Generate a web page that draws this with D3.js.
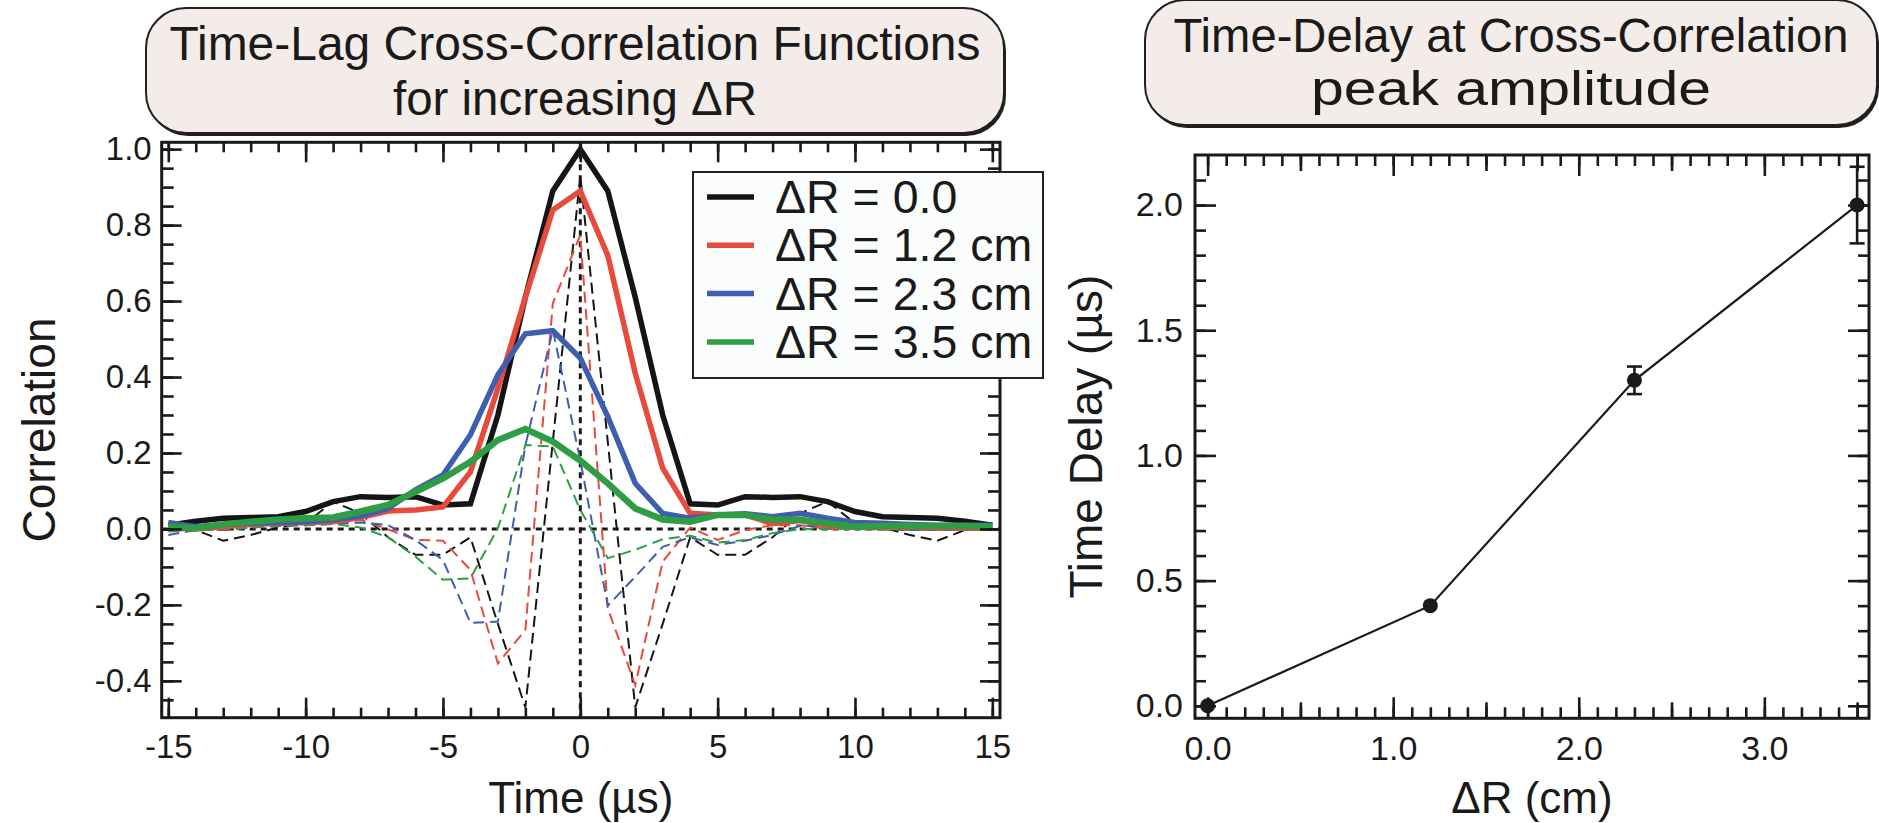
<!DOCTYPE html>
<html>
<head>
<meta charset="utf-8">
<script src="https://cdn.jsdelivr.net/npm/d3@7"></script>
<style>
body { margin: 0; background: #fff; }
svg text { font-family: "Liberation Sans", Arial, Helvetica, sans-serif; fill: #1a1a1a; }
</style>
</head>
<body>
<div id="chart"></div>
<script>
// time lags (us) of the cross-correlation functions
var lags = [-15,-14,-13,-12,-11,-10,-9,-8,-7,-6,-5,-4,-3,-2,-1,0,1,2,3,4,5,6,7,8,9,10,11,12,13,14,15];

// solid curves : correlation for each dR
var corr00 = [0.01,0.02,0.028,0.03,0.032,0.046,0.072,0.085,0.083,0.085,0.063,0.066,0.30,0.61,0.89,1.0,0.89,0.61,0.30,0.066,0.063,0.085,0.083,0.085,0.072,0.046,0.032,0.03,0.028,0.02,0.01];
var corr12 = [0.002,0.0,0.006,0.012,0.015,0.017,0.019,0.03,0.047,0.05,0.058,0.15,0.37,0.61,0.84,0.89,0.72,0.41,0.16,0.041,0.037,0.037,0.014,0.022,0.01,0.006,0.005,0.005,0.004,0.003,0.002];
var corr23 = [0.017,0.006,0.012,0.015,0.017,0.019,0.024,0.034,0.054,0.103,0.142,0.248,0.406,0.514,0.522,0.45,0.296,0.12,0.041,0.028,0.037,0.04,0.032,0.041,0.028,0.017,0.015,0.012,0.01,0.01,0.01];
var corr35 = [0.006,0.002,0.012,0.019,0.025,0.028,0.03,0.046,0.063,0.098,0.133,0.177,0.234,0.263,0.23,0.18,0.12,0.054,0.025,0.019,0.037,0.037,0.024,0.024,0.015,0.006,0.008,0.008,0.008,0.008,0.006];

// dashed curves
var dash00 = [0.0,-0.003,-0.031,-0.016,0.004,0.015,0.072,0.041,-0.022,-0.068,-0.068,-0.022,-0.25,-0.47,0.23,0.93,0.23,-0.47,-0.25,-0.022,-0.068,-0.068,-0.022,0.041,0.072,0.015,0.004,-0.016,-0.031,-0.003,0.0];
var dash12 = [-0.003,-0.003,-0.003,0.004,0.008,0.013,0.013,0.024,-0.001,-0.029,-0.031,-0.108,-0.354,-0.266,0.594,0.774,-0.209,-0.411,-0.086,0.004,-0.029,-0.003,0.01,0.01,0.0,0.0,-0.002,-0.003,-0.003,-0.003,-0.003];
var dash23 = [-0.016,-0.003,-0.003,0.004,0.008,0.01,0.013,0.017,0.01,-0.029,-0.082,-0.247,-0.244,0.22,0.524,0.18,-0.202,-0.126,-0.047,-0.022,-0.042,-0.031,-0.016,0.008,0.008,0.004,0.0,-0.003,-0.003,-0.003,-0.003];
var dash35 = [-0.007,-0.003,-0.001,0.004,0.008,0.01,0.013,0.004,-0.022,-0.073,-0.134,-0.13,0.002,0.221,0.217,0.05,-0.077,-0.055,-0.027,-0.018,-0.036,-0.029,-0.011,0.0,0.0,0.0,0.0,0.0,0.0,0.0,0.0];

var seriesNames = ["\u0394R = 0.0", "\u0394R = 1.2 cm", "\u0394R = 2.3 cm", "\u0394R = 3.5 cm"];
var seriesColors = ["#151515", "#e64b3c", "#3f5fae", "#2e9e44"];

// right panel : time delay at the peak
var deltaR = [0.0, 1.2, 2.3, 3.5];
var delay = [0.0, 0.4, 1.3, 2.0];
var delayErr = [0.0, 0.0, 0.055, 0.153];

var xTicksL = [-15, -10, -5, 0, 5, 10, 15];
var yTicksL = [-0.4, -0.2, 0.0, 0.2, 0.4, 0.6, 0.8, 1.0];
var xTicksR = [0.0, 1.0, 2.0, 3.0];
var yTicksR = [0.0, 0.5, 1.0, 1.5, 2.0];

var ink = "#1a1a1a";

var svg = d3.select("#chart").append("svg")
    .attr("width", 1879)
    .attr("height", 823);

// draws a set of inward ticks (labels optional)
function ticks(axisFn, scale, tr, values, size, fmt, pad, fs) {
	var ax = axisFn(scale).tickValues(values).tickSize(-size).tickPadding(pad || 0)
	    .tickFormat(fmt || "");
	var g = svg.append("g").attr("transform", tr).call(ax);
	g.select(".domain").remove();
	g.selectAll("line").attr("stroke", ink).attr("stroke-width", 2.6);
	g.selectAll("text").attr("font-size", fs || 32).attr("fill", ink);
	return g;
}

function titleBox(x0, y0, x1, y1, lines) {
	svg.append("rect")
	    .attr("x", x0 + 2).attr("y", y0 + 3)
	    .attr("width", x1 - x0).attr("height", y1 - y0)
	    .attr("rx", 40).attr("fill", "#231f20");
	svg.append("rect")
	    .attr("x", x0).attr("y", y0)
	    .attr("width", x1 - x0).attr("height", y1 - y0)
	    .attr("rx", 40).attr("fill", "#f4ece8")
	    .attr("stroke", "#231f20").attr("stroke-width", 2);
	lines.forEach(function (l) {
		svg.append("text")
		    .attr("x", (x0 + x1) / 2).attr("y", l.y)
		    .attr("text-anchor", "middle")
		    .attr("font-size", l.fs || 48)
		    .attr("textLength", l.w)
		    .attr("lengthAdjust", "spacingAndGlyphs")
		    .text(l.t);
	});
}

/* ---------- left panel ---------- */
var L = {x0: 161.7, x1: 1000, y0: 142.3, y1: 717.7};
var xL = d3.scaleLinear().domain([-15.24, 15.28]).range([L.x0, L.x1]);
var yL = d3.scaleLinear().domain([-0.497, 1.018]).range([L.y1, L.y0]);

svg.append("clipPath").attr("id", "clipL").append("rect")
    .attr("x", L.x0).attr("y", L.y0).attr("width", L.x1 - L.x0).attr("height", L.y1 - L.y0);

var plotL = svg.append("g").attr("clip-path", "url(#clipL)");

// zero lines
plotL.append("line")
    .attr("x1", L.x0).attr("x2", L.x1).attr("y1", yL(0)).attr("y2", yL(0))
    .attr("stroke", ink).attr("stroke-width", 3).attr("stroke-dasharray", "6,5");
plotL.append("line")
    .attr("x1", xL(0)).attr("x2", xL(0)).attr("y1", L.y0).attr("y2", L.y1)
    .attr("stroke", ink).attr("stroke-width", 3).attr("stroke-dasharray", "6,5");

var lineL = d3.line()
    .x(function (d) { return xL(d[0]); })
    .y(function (d) { return yL(d[1]); });

function pairs(vals) {
	return lags.map(function (t, i) { return [t, vals[i]]; });
}

[dash00, dash12, dash23, dash35].forEach(function (s, i) {
	plotL.append("path")
	    .attr("d", lineL(pairs(s)))
	    .attr("fill", "none")
	    .attr("stroke", seriesColors[i])
	    .attr("stroke-width", 2)
	    .attr("stroke-dasharray", "11,6");
});

[corr00, corr12, corr23, corr35].forEach(function (s, i) {
	plotL.append("path")
	    .attr("d", lineL(pairs(s)))
	    .attr("fill", "none")
	    .attr("stroke", seriesColors[i])
	    .attr("stroke-width", i == 3 ? 6.5 : 5.5);
});

// axes frame + ticks
ticks(d3.axisBottom, xL, "translate(0," + L.y1 + ")", d3.range(-15, 16), 10);
ticks(d3.axisBottom, xL, "translate(0," + L.y1 + ")", xTicksL, 20, function (d) { return d; }, 17, 33);
ticks(d3.axisTop, xL, "translate(0," + L.y0 + ")", d3.range(-15, 16), 10);
ticks(d3.axisTop, xL, "translate(0," + L.y0 + ")", xTicksL, 20);
var yMinorL = d3.range(-9, 21).map(function (i) { return i * 0.05; });
ticks(d3.axisLeft, yL, "translate(" + L.x0 + ",0)", yMinorL, 12);
ticks(d3.axisLeft, yL, "translate(" + L.x0 + ",0)", yTicksL, 20, function (d) { return d.toFixed(1); }, 10, 33);
ticks(d3.axisRight, yL, "translate(" + L.x1 + ",0)", yMinorL, 12);
ticks(d3.axisRight, yL, "translate(" + L.x1 + ",0)", yTicksL, 20);

svg.append("rect")
    .attr("x", L.x0).attr("y", L.y0).attr("width", L.x1 - L.x0).attr("height", L.y1 - L.y0)
    .attr("fill", "none").attr("stroke", ink).attr("stroke-width", 3);

// legend
var leg = svg.append("g");
leg.append("rect")
    .attr("x", 693).attr("y", 172).attr("width", 350).attr("height", 206)
    .attr("fill", "#fbfdfc").attr("stroke", "#222").attr("stroke-width", 2);
seriesNames.forEach(function (n, i) {
	var cy = 197 + i * 48.3;
	leg.append("line")
	    .attr("x1", 707).attr("x2", 754).attr("y1", cy).attr("y2", cy)
	    .attr("stroke", seriesColors[i]).attr("stroke-width", 5.5);
	leg.append("text")
	    .attr("x", 775).attr("y", cy + 16)
	    .attr("font-size", 46.5)
	    .text(n);
});

svg.append("text")
    .attr("transform", "translate(55," + ((L.y0 + L.y1) / 2) + ") rotate(-90)")
    .attr("text-anchor", "middle")
    .attr("font-size", 46)
    .text("Correlation");
svg.append("text")
    .attr("x", (L.x0 + L.x1) / 2).attr("y", 813)
    .attr("text-anchor", "middle")
    .attr("font-size", 44)
    .text("Time (\u00b5s)");

titleBox(146, 8, 1004, 133, [
	{t: "Time-Lag Cross-Correlation Functions", y: 60, w: 811},
	{t: "for increasing \u0394R", y: 115, w: 364}
]);

/* ---------- right panel ---------- */
var R = {x0: 1195, x1: 1869, y0: 155, y1: 718.3};
var xR = d3.scaleLinear().domain([-0.068, 3.564]).range([R.x0, R.x1]);
var yR = d3.scaleLinear().domain([-0.05, 2.2]).range([R.y1, R.y0]);

var xMinorR = d3.range(0, 36).map(function (i) { return i / 10; });
var xMidR = [0.5, 1.5, 2.5, 3.5];
var yMinorR = d3.range(0, 22).map(function (i) { return i / 10; });

ticks(d3.axisBottom, xR, "translate(0," + R.y1 + ")", xMinorR, 11);
ticks(d3.axisBottom, xR, "translate(0," + R.y1 + ")", xMidR, 16);
ticks(d3.axisBottom, xR, "translate(0," + R.y1 + ")", xTicksR, 21, function (d) { return d.toFixed(1); }, 18, 34);
ticks(d3.axisTop, xR, "translate(0," + R.y0 + ")", xMinorR, 11);
ticks(d3.axisTop, xR, "translate(0," + R.y0 + ")", xMidR, 16);
ticks(d3.axisTop, xR, "translate(0," + R.y0 + ")", xTicksR, 21);
ticks(d3.axisLeft, yR, "translate(" + R.x0 + ",0)", yMinorR, 11);
ticks(d3.axisLeft, yR, "translate(" + R.x0 + ",0)", yTicksR, 21, function (d) { return d.toFixed(1); }, 12, 34);
ticks(d3.axisRight, yR, "translate(" + R.x1 + ",0)", yMinorR, 11);
ticks(d3.axisRight, yR, "translate(" + R.x1 + ",0)", yTicksR, 21);

svg.append("rect")
    .attr("x", R.x0).attr("y", R.y0).attr("width", R.x1 - R.x0).attr("height", R.y1 - R.y0)
    .attr("fill", "none").attr("stroke", ink).attr("stroke-width", 3);

var ptsR = deltaR.map(function (d, i) { return [d, delay[i], delayErr[i]]; });

svg.append("path")
    .attr("d", d3.line()
        .x(function (d) { return xR(d[0]); })
        .y(function (d) { return yR(d[1]); })(ptsR))
    .attr("fill", "none").attr("stroke", ink).attr("stroke-width", 2.2);

var eb = svg.append("g").selectAll("g")
    .data(ptsR.filter(function (d) { return d[2] > 0; }))
    .enter().append("g")
    .attr("stroke", ink).attr("stroke-width", 2.6);
eb.append("line")
    .attr("x1", function (d) { return xR(d[0]); })
    .attr("x2", function (d) { return xR(d[0]); })
    .attr("y1", function (d) { return yR(d[1] - d[2]); })
    .attr("y2", function (d) { return yR(d[1] + d[2]); });
eb.append("line")
    .attr("x1", function (d) { return xR(d[0]) - 7.5; })
    .attr("x2", function (d) { return xR(d[0]) + 7.5; })
    .attr("y1", function (d) { return yR(d[1] - d[2]); })
    .attr("y2", function (d) { return yR(d[1] - d[2]); });
eb.append("line")
    .attr("x1", function (d) { return xR(d[0]) - 7.5; })
    .attr("x2", function (d) { return xR(d[0]) + 7.5; })
    .attr("y1", function (d) { return yR(d[1] + d[2]); })
    .attr("y2", function (d) { return yR(d[1] + d[2]); });

svg.append("g").selectAll("circle")
    .data(ptsR)
    .enter().append("circle")
    .attr("cx", function (d) { return xR(d[0]); })
    .attr("cy", function (d) { return yR(d[1]); })
    .attr("r", 7.5)
    .attr("fill", ink);

svg.append("text")
    .attr("transform", "translate(1102," + ((R.y0 + R.y1) / 2) + ") rotate(-90)")
    .attr("text-anchor", "middle")
    .attr("font-size", 46)
    .text("Time Delay (\u00b5s)");
svg.append("text")
    .attr("x", (R.x0 + R.x1) / 2).attr("y", 813)
    .attr("text-anchor", "middle")
    .attr("font-size", 44)
    .text("\u0394R (cm)");

titleBox(1145, 0, 1877, 125, [
	{t: "Time-Delay at Cross-Correlation", y: 52, w: 675},
	{t: "peak amplitude", y: 105, w: 400, fs: 49}
]);
</script>
</body>
</html>
